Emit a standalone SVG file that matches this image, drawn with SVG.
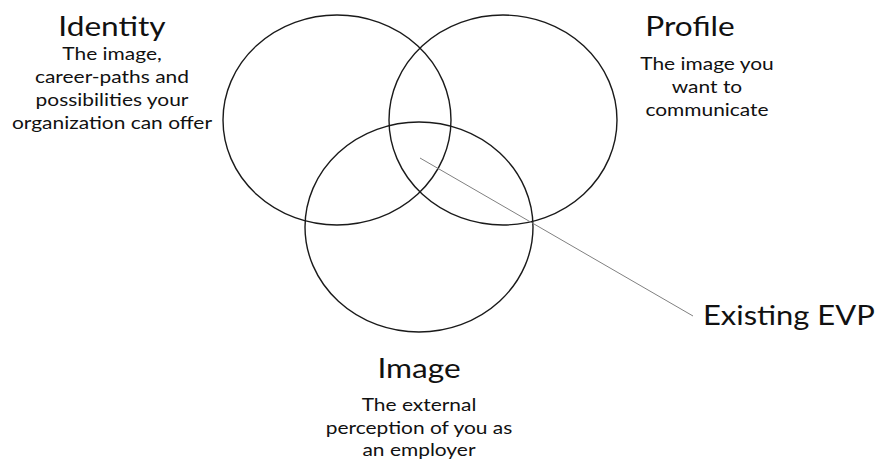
<svg xmlns="http://www.w3.org/2000/svg" width="876" height="459" viewBox="0 0 876 459">
<style>
.c{fill:none;stroke:#1a1a1a;stroke-width:1.4}
.t{font-family:Lato,"Open Sans",sans-serif;fill:#111;text-anchor:middle}
.h{font-size:27.5px}
.b{font-size:18.2px}
.ln{stroke:#808080;stroke-width:1;fill:none}
</style>
<rect width="876" height="459" fill="#fff"/>
<g id="identity">
<ellipse class="c" cx="337" cy="120" rx="114" ry="105"/>
<g transform="translate(112,0) scale(1.15,1)">
<text class="t h" x="0" y="36">Identity</text>
<text class="t b" x="0" y="60">The image,</text>
<text class="t b" x="0" y="83">career-paths and</text>
<text class="t b" x="0" y="106">possibilities your</text>
<text class="t b" x="0" y="129">organization can offer</text>
</g>
</g>
<g id="profile">
<ellipse class="c" cx="503" cy="120" rx="114" ry="105"/>
<g transform="translate(690,0) scale(1.15,1)">
<text class="t h" x="0" y="36">Profile</text>
</g>
<g transform="translate(707,0) scale(1.15,1)">
<text class="t b" x="0" y="70">The image you</text>
<text class="t b" x="0" y="93">want to</text>
<text class="t b" x="0" y="116">communicate</text>
</g>
</g>
<g id="image">
<ellipse class="c" cx="419" cy="227" rx="114" ry="105"/>
<g transform="translate(419,0) scale(1.15,1)">
<text class="t h" x="0" y="378">Image</text>
<text class="t b" x="0" y="411">The external</text>
<text class="t b" x="0" y="434">perception of you as</text>
<text class="t b" x="0" y="456">an employer</text>
</g>
</g>
<g id="connectors">
<line class="ln" x1="420" y1="158" x2="693" y2="316"/>
</g>
<g id="evp">
<g transform="translate(703,0) scale(1.125,1)">
<text class="t h" x="0" y="325" style="text-anchor:start">Existing EVP</text>
</g>
</g>
</svg>
